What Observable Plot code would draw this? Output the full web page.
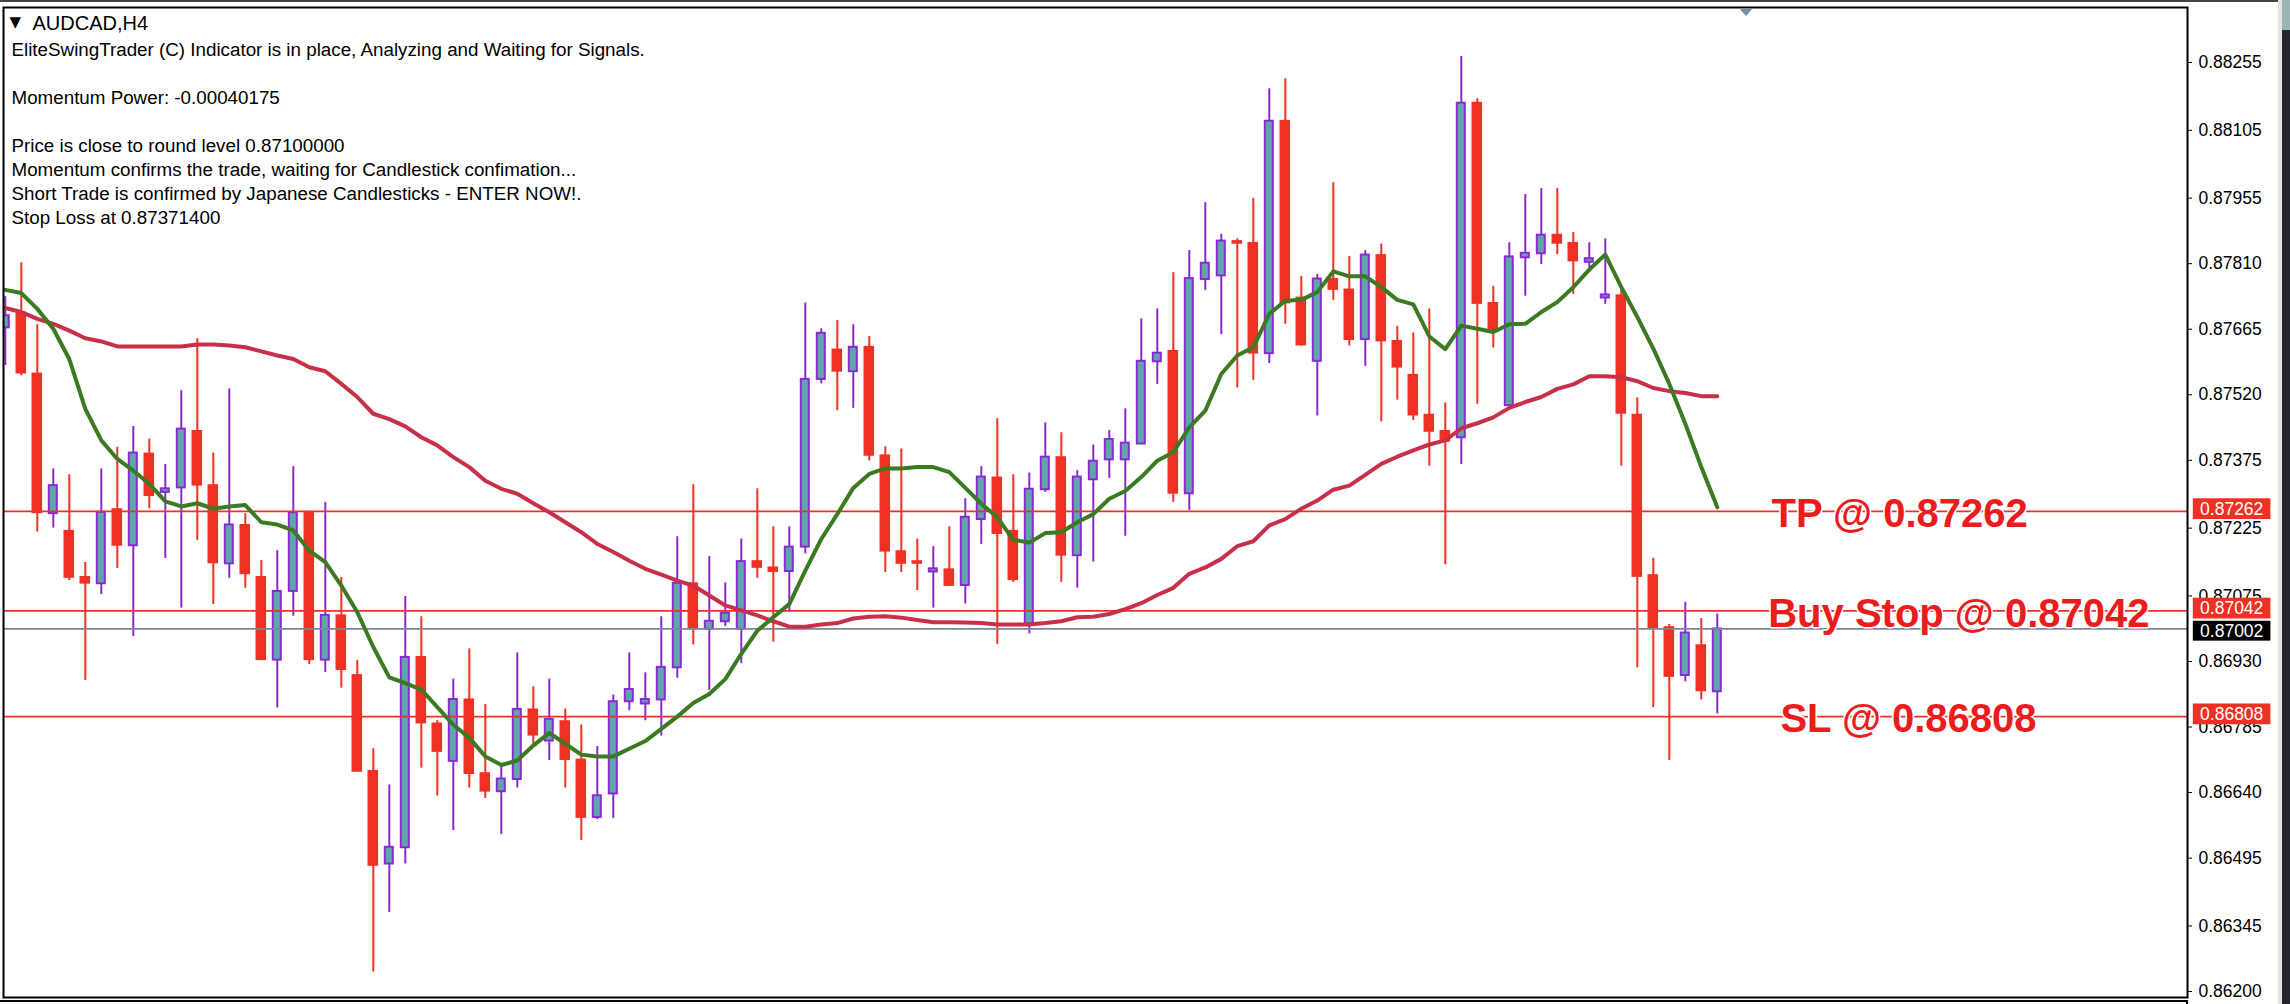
<!DOCTYPE html>
<html>
<head>
<meta charset="utf-8">
<script src="https://cdn.jsdelivr.net/npm/d3@7"></script>
<script src="https://cdn.jsdelivr.net/npm/@observablehq/plot@0.6"></script>
<style>
html,body{margin:0;padding:0;background:#fff;}
#page{position:relative;width:2290px;height:1004px;overflow:hidden;background:#fff;}
#page svg{position:absolute;left:0;top:0;}
.deco{position:absolute;}
</style>
</head>
<body>
<div id="page"></div>
<script>
const symbolTitle = "AUDCAD,H4";
const infoLines = [
  "EliteSwingTrader (C) Indicator is in place, Analyzing and Waiting for Signals.",
  "",
  "Momentum Power: -0.00040175",
  "",
  "Price is close to round level 0.87100000",
  "Momentum confirms the trade, waiting for Candlestick confimation...",
  "Short Trade is confirmed by Japanese Candlesticks - ENTER NOW!.",
  "Stop Loss at 0.87371400"
];
const priceTicks = [0.88255,0.88105,0.87955,0.87810,0.87665,0.87520,0.87375,0.87225,0.87075,0.86930,0.86785,0.86640,0.86495,0.86345,0.86200];

const opens = [0.87668,0.87703,0.87568,0.87257,0.87220,0.87118,0.87102,0.87268,0.87186,0.87391,
0.87304,0.87314,0.87441,0.87321,0.87146,0.87233,0.87118,0.86933,0.87085,0.87262,
0.86933,0.87033,0.86901,0.86689,0.86482,0.86518,0.86941,0.86794,0.86709,0.86847,
0.86684,0.86642,0.86669,0.86825,0.86754,0.86799,0.86714,0.86585,0.86637,0.86841,
0.86836,0.86845,0.86916,0.87104,0.87001,0.87018,0.87001,0.87153,0.87139,0.87129,
0.87183,0.87554,0.87621,0.87571,0.87627,0.87387,0.87175,0.87153,0.87128,0.87135,
0.87098,0.87244,0.87338,0.87220,0.87013,0.87310,0.87383,0.87164,0.87332,0.87376,
0.87376,0.87411,0.87593,0.87618,0.87301,0.87775,0.87783,0.87861,0.87857,0.87611,
0.88127,0.87736,0.87594,0.87777,0.87754,0.87642,0.87830,0.87640,0.87565,0.87477,
0.87441,0.87425,0.88167,0.87724,0.87496,0.87823,0.87832,0.87875,0.87857,0.87813,
0.87734,0.87741,0.87477,0.87122,0.87007,0.86899,0.86967,0.86863];
const highs = [0.87737,0.87812,0.87675,0.87356,0.87343,0.87149,0.87356,0.87404,0.87450,0.87422,
0.87366,0.87529,0.87644,0.87391,0.87533,0.87257,0.87153,0.87175,0.87361,0.87262,
0.87282,0.87116,0.86932,0.86737,0.86657,0.87074,0.87029,0.86799,0.86891,0.86958,
0.86835,0.86703,0.86949,0.86874,0.86891,0.86825,0.86790,0.86742,0.86856,0.86949,
0.86905,0.87029,0.87206,0.87321,0.87162,0.87104,0.87201,0.87312,0.87228,0.87228,
0.87723,0.87666,0.87684,0.87675,0.87649,0.87405,0.87400,0.87201,0.87184,0.87228,
0.87290,0.87361,0.87467,0.87343,0.87347,0.87458,0.87436,0.87352,0.87409,0.87441,
0.87489,0.87688,0.87710,0.87790,0.87839,0.87945,0.87875,0.87865,0.87954,0.88197,
0.88219,0.87782,0.87786,0.87989,0.87826,0.87839,0.87853,0.87671,0.87657,0.87710,
0.87502,0.88268,0.88175,0.87760,0.87856,0.87963,0.87976,0.87976,0.87879,0.87856,
0.87865,0.87758,0.87513,0.87158,0.87012,0.87061,0.87025,0.87035];
const lows = [0.87585,0.87562,0.87216,0.87225,0.87109,0.86888,0.87078,0.87136,0.86985,0.87268,
0.87158,0.87048,0.87198,0.87056,0.87114,0.87092,0.86932,0.86827,0.87030,0.86923,
0.86906,0.86871,0.86685,0.86243,0.86375,0.86482,0.86694,0.86632,0.86556,0.86650,
0.86627,0.86547,0.86650,0.86744,0.86711,0.86650,0.86534,0.86580,0.86583,0.86821,
0.86799,0.86765,0.86893,0.86967,0.86866,0.87007,0.86925,0.87114,0.86973,0.87039,
0.87168,0.87544,0.87485,0.87490,0.87374,0.87127,0.87127,0.87087,0.87048,0.87096,
0.87057,0.87189,0.86968,0.87105,0.86991,0.87304,0.87105,0.87092,0.87150,0.87335,
0.87207,0.87411,0.87543,0.87282,0.87264,0.87751,0.87653,0.87535,0.87552,0.87589,
0.87676,0.87628,0.87473,0.87729,0.87628,0.87583,0.87460,0.87508,0.87463,0.87362,
0.87144,0.87366,0.87499,0.87623,0.87496,0.87738,0.87808,0.87830,0.87742,0.87795,
0.87720,0.87362,0.86916,0.86828,0.86711,0.86885,0.86845,0.86814];
const closes = [0.87695,0.87566,0.87257,0.87319,0.87114,0.87101,0.87260,0.87185,0.87391,0.87295,
0.87312,0.87444,0.87318,0.87146,0.87232,0.87122,0.86932,0.87085,0.87259,0.86932,
0.87032,0.86910,0.86685,0.86477,0.86519,0.86939,0.86792,0.86729,0.86846,0.86680,
0.86641,0.86670,0.86824,0.86765,0.86802,0.86711,0.86583,0.86633,0.86841,0.86868,
0.86846,0.86917,0.87103,0.87000,0.87019,0.87037,0.87151,0.87136,0.87127,0.87183,
0.87554,0.87656,0.87570,0.87625,0.87384,0.87172,0.87145,0.87145,0.87135,0.87096,
0.87249,0.87338,0.87211,0.87109,0.87311,0.87382,0.87163,0.87338,0.87373,0.87421,
0.87413,0.87594,0.87612,0.87300,0.87777,0.87811,0.87860,0.87853,0.87610,0.88125,
0.87721,0.87628,0.87776,0.87751,0.87640,0.87829,0.87637,0.87579,0.87473,0.87437,
0.87415,0.88165,0.87720,0.87662,0.87825,0.87833,0.87873,0.87853,0.87814,0.87821,
0.87741,0.87477,0.87116,0.87001,0.86895,0.86993,0.86863,0.87002];
const fastMA = [0.87752,0.87745,0.87710,0.87666,0.87599,0.87489,0.87419,0.87378,0.87352,0.87323,
0.87284,0.87273,0.87280,0.87268,0.87273,0.87276,0.87238,0.87233,0.87220,0.87175,
0.87150,0.87098,0.87039,0.86962,0.86895,0.86882,0.86868,0.86829,0.86790,0.86761,
0.86720,0.86701,0.86711,0.86744,0.86772,0.86748,0.86724,0.86720,0.86720,0.86737,
0.86754,0.86781,0.86808,0.86838,0.86858,0.86891,0.86947,0.86998,0.87028,0.87057,
0.87131,0.87201,0.87256,0.87314,0.87345,0.87357,0.87357,0.87360,0.87360,0.87349,
0.87314,0.87279,0.87249,0.87199,0.87193,0.87214,0.87216,0.87238,0.87256,0.87290,
0.87307,0.87338,0.87374,0.87393,0.87448,0.87485,0.87566,0.87607,0.87625,0.87699,
0.87728,0.87730,0.87747,0.87793,0.87782,0.87782,0.87758,0.87730,0.87720,0.87649,
0.87621,0.87673,0.87666,0.87659,0.87676,0.87677,0.87703,0.87725,0.87758,0.87797,
0.87830,0.87758,0.87692,0.87622,0.87544,0.87456,0.87360,0.87271];
const slowMA = [0.87712,0.87703,0.87688,0.87677,0.87662,0.87645,0.87638,0.87627,0.87627,0.87627,
0.87627,0.87627,0.87631,0.87631,0.87629,0.87625,0.87616,0.87607,0.87599,0.87581,
0.87572,0.87544,0.87515,0.87478,0.87466,0.87450,0.87426,0.87408,0.87382,0.87360,
0.87330,0.87312,0.87301,0.87280,0.87260,0.87238,0.87216,0.87190,0.87172,0.87153,
0.87135,0.87122,0.87109,0.87098,0.87076,0.87054,0.87043,0.87032,0.87019,0.87007,
0.87007,0.87012,0.87015,0.87025,0.87029,0.87030,0.87027,0.87022,0.87017,0.87017,
0.87016,0.87015,0.87012,0.87012,0.87012,0.87015,0.87019,0.87028,0.87029,0.87035,
0.87046,0.87059,0.87077,0.87093,0.87124,0.87138,0.87157,0.87185,0.87196,0.87231,
0.87245,0.87268,0.87286,0.87310,0.87319,0.87343,0.87367,0.87383,0.87397,0.87410,
0.87419,0.87446,0.87457,0.87470,0.87491,0.87504,0.87515,0.87533,0.87543,0.87561,
0.87561,0.87559,0.87550,0.87535,0.87528,0.87524,0.87517,0.87517];

const levelNames = ["TP","Buy Stop","SL"];
const levelPrices = [0.87262,0.87042,0.86808];
const lastPrice = 0.87002;

const candles = opens.map((o,i)=>({i,open:o,high:highs[i],low:lows[i],close:closes[i]}));
const bull = candles.filter(d=>d.close>=d.open);
const bear = candles.filter(d=>d.close<d.open);
const levels = levelNames.map((n,k)=>({name:n,price:levelPrices[k]}));

const RED="#ee3124", PURPLE="#8a2bd2", TEAL="#5aa9a5", GREEN="#3a7a20", CRIMSON="#c8304a", GREY="#7a8694";
const pos = {TP:118.4,"Buy Stop":122.1,SL:118.95};
const f5 = d=>d.toFixed(5);

const chart = Plot.plot({
  width:2290,height:1004,
  marginTop:7,marginRight:103,marginBottom:7,marginLeft:3,
  style:{background:"#fff",fontFamily:"'Liberation Sans',sans-serif",overflow:"visible"},
  x:{type:"linear",domain:[0,107],range:[4.8,1716.8],axis:null},
  y:{type:"linear",domain:[0.862,0.88255],range:[991,62]},
  marks:[
    Plot.axisY({anchor:"right",ticks:priceTicks,tickFormat:f5,tickSize:4,tickPadding:7,label:null,fontSize:17.5,fill:"#000",stroke:"#000",color:"#000"}),
    Plot.ruleX(bear,{x:"i",y1:"low",y2:"high",stroke:RED,strokeWidth:2,clip:"frame"}),
    Plot.ruleX(bull,{x:"i",y1:"low",y2:"high",stroke:PURPLE,strokeWidth:2,clip:"frame"}),
    Plot.rect(bear,{x1:d=>d.i-0.33,x2:d=>d.i+0.33,y1:"open",y2:"close",fill:RED,clip:"frame"}),
    Plot.rect(bull,{x1:d=>d.i-0.25,x2:d=>d.i+0.25,y1:"open",y2:"close",fill:TEAL,stroke:PURPLE,strokeWidth:2,clip:"frame"}),
    Plot.ruleY([lastPrice],{stroke:GREY,strokeWidth:1.7}),
    Plot.ruleY(levelPrices,{stroke:RED,strokeWidth:1.7}),
    Plot.line(slowMA,{x:(d,i)=>i,y:d=>d,stroke:CRIMSON,strokeWidth:4,curve:"linear"}),
    Plot.line(fastMA,{x:(d,i)=>i,y:d=>d,stroke:GREEN,strokeWidth:4,curve:"linear",clip:"frame"}),
    Plot.frame({stroke:"#000",strokeWidth:2}),
    Plot.text(levels,{x:d=>pos[d.name],y:"price",dy:3,text:d=>`${d.name} @ ${f5(d.price)}`,fill:"#ec1c1c",stroke:"#fff",strokeWidth:3,fontWeight:"bold",fontSize:40,fontFamily:"'Liberation Sans',sans-serif"}),
    Plot.rect(levels,{x1:136.75,x2:141.6,y1:d=>d.price-0.00018,y2:d=>d.price+0.00028,fill:RED}),
    Plot.rect([lastPrice],{x1:136.75,x2:141.6,y1:d=>d-0.00027,y2:d=>d+0.00017,fill:"#000"}),
    Plot.text(levels,{x:139.15,y:"price",dy:-2,text:d=>f5(d.price),fill:"#fff",fontSize:17.5}),
    Plot.text([lastPrice],{x:139.15,y:d=>d,dy:2,text:f5,fill:"#fff",fontSize:17.5}),
    Plot.text([symbolTitle],{text:d=>d,frameAnchor:"top-left",dx:29,dy:16,lineAnchor:"middle",textAnchor:"start",fontSize:20,fill:"#000"}),
    Plot.text(["\u25BC"],{text:d=>d,frameAnchor:"top-left",dx:6,dy:15,lineAnchor:"middle",textAnchor:"start",fontSize:15,fill:"#000",fontFamily:"'DejaVu Sans'"}),
    Plot.text([infoLines.join("\n")],{text:d=>d,frameAnchor:"top-left",dx:8,dy:31,lineAnchor:"top",textAnchor:"start",lineHeight:24/18.8,fontSize:18.8,fill:"#000"})
  ]
});
const page=document.getElementById("page");
page.appendChild(chart);
const deco=(l,t,w,h,c)=>{const e=document.createElement("div");e.className="deco";e.style.cssText=`left:${l}px;top:${t}px;width:${w}px;height:${h}px;background:${c}`;page.appendChild(e);};
deco(0,0,2278,2,"#444");
deco(2278,0,4,1004,"#e4e4e4");
deco(2282,0,8,30,"#9bb5b5");
deco(2282,30,8,974,"#23272e");
deco(0,1000,2188,2,"#000");
deco(2186,1000,2,4,"#000");
const tri=document.createElement("div");
tri.className="deco";
tri.style.cssText="left:1739px;top:8px;width:0;height:0;border-left:7px solid transparent;border-right:7px solid transparent;border-top:8px solid #7a8ca0";
page.appendChild(tri);
</script>
</body>
</html>
